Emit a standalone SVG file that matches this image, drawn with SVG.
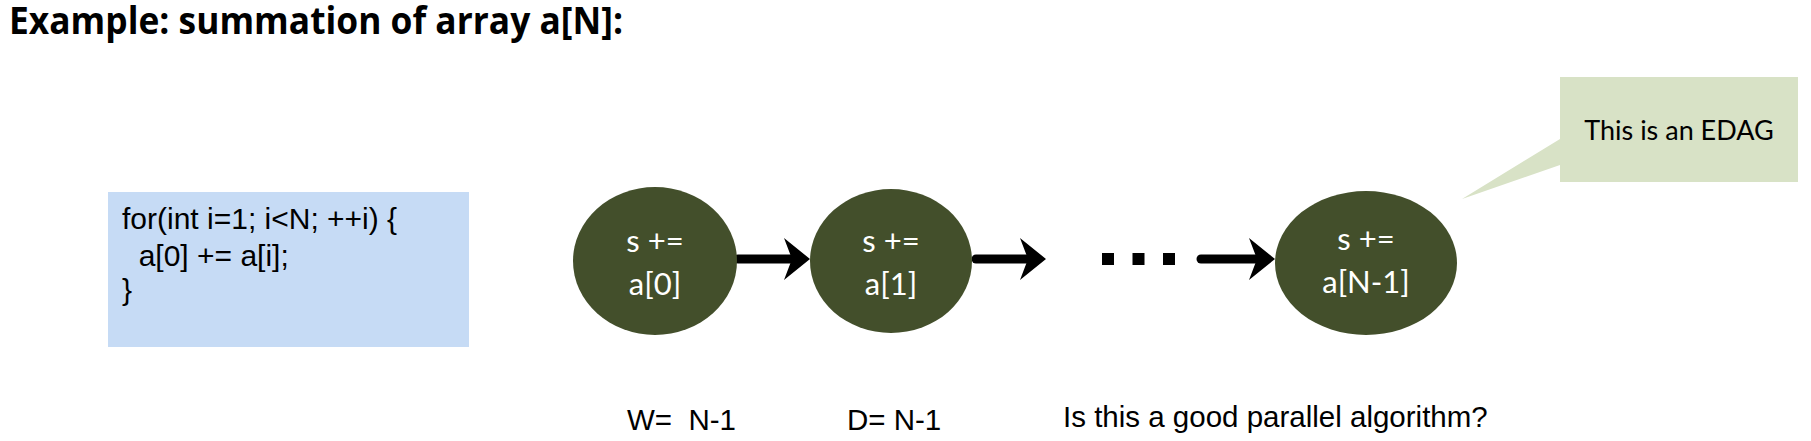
<svg xmlns="http://www.w3.org/2000/svg" width="1811" height="441" viewBox="0 0 1811 441">
  <style>
    .title { font-family: "Open Sans", Lato, sans-serif; font-weight: bold; font-size: 38px; fill: #000; }
    .code { font-family: "Liberation Sans", Arial, sans-serif; font-size: 30px; fill: #000; white-space: pre; }
    .node { fill: #434F2B; }
    .nodetext { font-family: Lato, "Open Sans", sans-serif; font-size: 31px; fill: #FFFFFF; text-anchor: middle; }
    .note { font-family: Lato, "Open Sans", sans-serif; font-size: 27px; fill: #000; text-anchor: middle; }
    .label { font-family: "Liberation Sans", Arial, sans-serif; font-size: 29.5px; fill: #000; white-space: pre; }
    .edge { stroke: #000; stroke-width: 9; stroke-linecap: round; fill: none; }
  </style>
  <defs>
    <marker id="head" viewBox="0 0 26 42" markerWidth="26" markerHeight="42" refX="8" refY="21" orient="auto" markerUnits="userSpaceOnUse">
      <path d="M0,0 L26,21 L0,42 L8,21 Z" fill="#000"/>
    </marker>
  </defs>
  <rect width="1811" height="441" fill="#FFFFFF"/>

  <g id="title">
    <text class="title" x="9" y="34" textLength="614" lengthAdjust="spacingAndGlyphs">Example: summation of array a[N]:</text>
  </g>

  <g id="code">
    <rect x="108" y="192" width="361" height="155" fill="#C6DBF5"/>
    <text class="code" x="122" y="229">for(int i=1; i&lt;N; ++i) {</text>
    <text class="code" x="122" y="266">  a[0] += a[i];</text>
    <text class="code" x="122" y="300">}</text>
  </g>

  <g id="connectors">
    <line class="edge" x1="738" y1="259" x2="792" y2="259" marker-end="url(#head)"/>
    <line class="edge" x1="976" y1="259" x2="1028" y2="259" marker-end="url(#head)"/>
    <line x1="1102" y1="259" x2="1176" y2="259" stroke="#000" stroke-width="12" stroke-dasharray="12 18.5"/>
    <line class="edge" x1="1201" y1="259" x2="1257" y2="259" marker-end="url(#head)"/>
  </g>

  <g id="node0">
    <ellipse class="node" cx="655" cy="261" rx="82" ry="74"/>
    <text class="nodetext" x="655" y="252">s +=</text>
    <text class="nodetext" x="655" y="295">a[0]</text>
  </g>
  <g id="node1">
    <ellipse class="node" cx="891" cy="261" rx="81" ry="72"/>
    <text class="nodetext" x="891" y="252">s +=</text>
    <text class="nodetext" x="891" y="295">a[1]</text>
  </g>
  <g id="nodeN">
    <ellipse class="node" cx="1366" cy="263" rx="91" ry="72"/>
    <text class="nodetext" x="1366" y="250">s +=</text>
    <text class="nodetext" x="1366" y="293">a[N-1]</text>
  </g>

  <g id="callout">
    <path d="M1560,77 H1798 V182 H1560 V165 L1462,199 L1560,139 Z" fill="#D8E2C6"/>
    <text class="note" x="1679" y="140">This is an EDAG</text>
  </g>

  <g id="labels">
    <text class="label" x="627" y="430">W=  N-1</text>
    <text class="label" x="847" y="430">D= N-1</text>
    <text class="label" x="1063" y="427" font-size="30">Is this a good parallel algorithm?</text>
  </g>
</svg>
